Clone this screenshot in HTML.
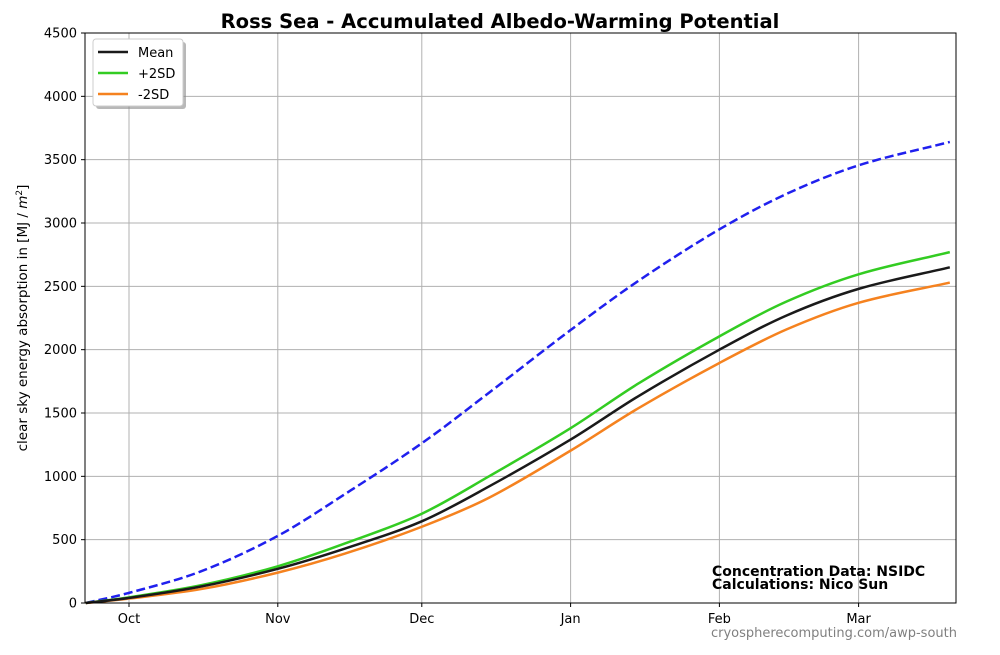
<!DOCTYPE html>
<html><head><meta charset="utf-8"><style>
body{margin:0;background:#fff;font-family:"Liberation Sans","DejaVu Sans",sans-serif}
svg text{font-family:"DejaVu Sans","Liberation Sans",sans-serif}
</style></head><body>
<svg id="chart" width="1000" height="650" xmlns="http://www.w3.org/2000/svg">
<text x="500" y="28" text-anchor="middle" font-size="19.5" font-weight="bold">Ross Sea - Accumulated Albedo-Warming Potential</text>
<g id="grid"></g><g id="series"></g><g id="axes"></g>
<text transform="translate(27,318) rotate(-90)" text-anchor="middle" font-size="13.5">clear sky energy absorption in  [MJ / <tspan font-style="italic">m</tspan><tspan baseline-shift="super" font-size="9">2</tspan>]</text>
<text x="712" y="576" font-size="14" font-weight="bold">Concentration Data: NSIDC</text>
<text x="712" y="589" font-size="14" font-weight="bold">Calculations: Nico Sun</text>
<text x="957" y="637" text-anchor="end" font-size="13" fill="#808080">cryospherecomputing.com/awp-south</text>
<g>
<rect x="96" y="42" width="90" height="67" rx="3" fill="#888" opacity="0.6"/>
<rect x="93" y="39" width="90" height="67" rx="3" fill="#fff" stroke="#ccc"/>
<line x1="98" y1="52" x2="128" y2="52" stroke="#1a1a1a" stroke-width="2.5"/>
<text x="138" y="57" font-size="13">Mean</text>
<line x1="98" y1="73" x2="128" y2="73" stroke="#33cc22" stroke-width="2.5"/>
<text x="138" y="78" font-size="13">+2SD</text>
<line x1="98" y1="94" x2="128" y2="94" stroke="#f5821f" stroke-width="2.5"/>
<text x="138" y="99" font-size="13">-2SD</text>
</g>
</svg>
<script>
const days=[-9,0,15,31,45,61,75,92,106,123,137,152,171];
const meanVals=[0,40,130,270,430,645,920,1290,1630,2000,2270,2480,2650];
const plusVals=[0,45,140,290,470,705,1000,1380,1730,2105,2380,2595,2770];
const minusVals=[0,35,110,240,390,602,831,1203,1535,1895,2160,2370,2530];
const blueVals=[0,80,250,530,860,1261,1660,2155,2540,2950,3230,3455,3640];
const yTicks=[0,500,1000,1500,2000,2500,3000,3500,4000,4500];
const monthLabels=["Oct","Nov","Dec","Jan","Feb","Mar"];
const monthDays=[0,31,61,92,123,152];
const L=85,R=956,T=33,B=603;
const x=d=>129+d*4.8;
const y=v=>B-(v/4500)*(B-T);
const NS="http://www.w3.org/2000/svg";
function mk(p,tag,at){const e=document.createElementNS(NS,tag);for(const k in at)e.setAttribute(k,at[k]);p.appendChild(e);return e;}
const grid=document.getElementById('grid'),axes=document.getElementById('axes'),ser=document.getElementById('series');
yTicks.forEach(v=>{
 const l=mk(grid,'line',{x1:L,x2:R,y1:y(v),y2:y(v),stroke:'#b0b0b0','stroke-width':1});
 
 
 mk(axes,'line',{x1:L-4,x2:L,y1:y(v),y2:y(v),stroke:'#000'});
 const t=mk(axes,'text',{x:L-8,y:y(v)+4.5,'text-anchor':'end','font-size':13});t.textContent=v;
 
 
});
monthDays.forEach((d,i)=>{
 const l=mk(grid,'line',{x1:x(d),x2:x(d),y1:T,y2:B,stroke:'#b0b0b0','stroke-width':1});
 
 
 mk(axes,'line',{x1:x(d),x2:x(d),y1:B,y2:B+4,stroke:'#000'});
 const t=mk(axes,'text',{x:x(d),y:B+20,'text-anchor':'middle','font-size':13});t.textContent=monthLabels[i];
 
 
});
const fr=mk(axes,'rect',{x:L,y:T,width:R-L,height:B-T,fill:'none',stroke:'#000','stroke-width':1});


function path(vals){
 const n=days.length,m=[];
 for(let i=0;i<n;i++){
  const a=Math.max(0,i-1),b=Math.min(n-1,i+1);
  m.push((vals[b]-vals[a])/(days[b]-days[a]));
 }
 let s=`M${x(days[0])},${y(vals[0])}`;
 for(let i=0;i<n-1;i++){
  const h=days[i+1]-days[i];
  const c1d=days[i]+h/3,c1v=vals[i]+m[i]*h/3;
  const c2d=days[i+1]-h/3,c2v=vals[i+1]-m[i+1]*h/3;
  s+=` C${x(c1d)},${y(c1v)} ${x(c2d)},${y(c2v)} ${x(days[i+1])},${y(vals[i+1])}`;
 }
 return s;
}
const b=mk(ser,'path',{d:path(blueVals),fill:'none',stroke:'#2020ee','stroke-width':2.5,'stroke-dasharray':'9,4'});


const g=mk(ser,'path',{d:path(plusVals),fill:'none',stroke:'#33cc22','stroke-width':2.5});


const o=mk(ser,'path',{d:path(minusVals),fill:'none',stroke:'#f5821f','stroke-width':2.5});


const mm=mk(ser,'path',{d:path(meanVals),fill:'none',stroke:'#1a1a1a','stroke-width':2.5});


</script>
</body></html>
